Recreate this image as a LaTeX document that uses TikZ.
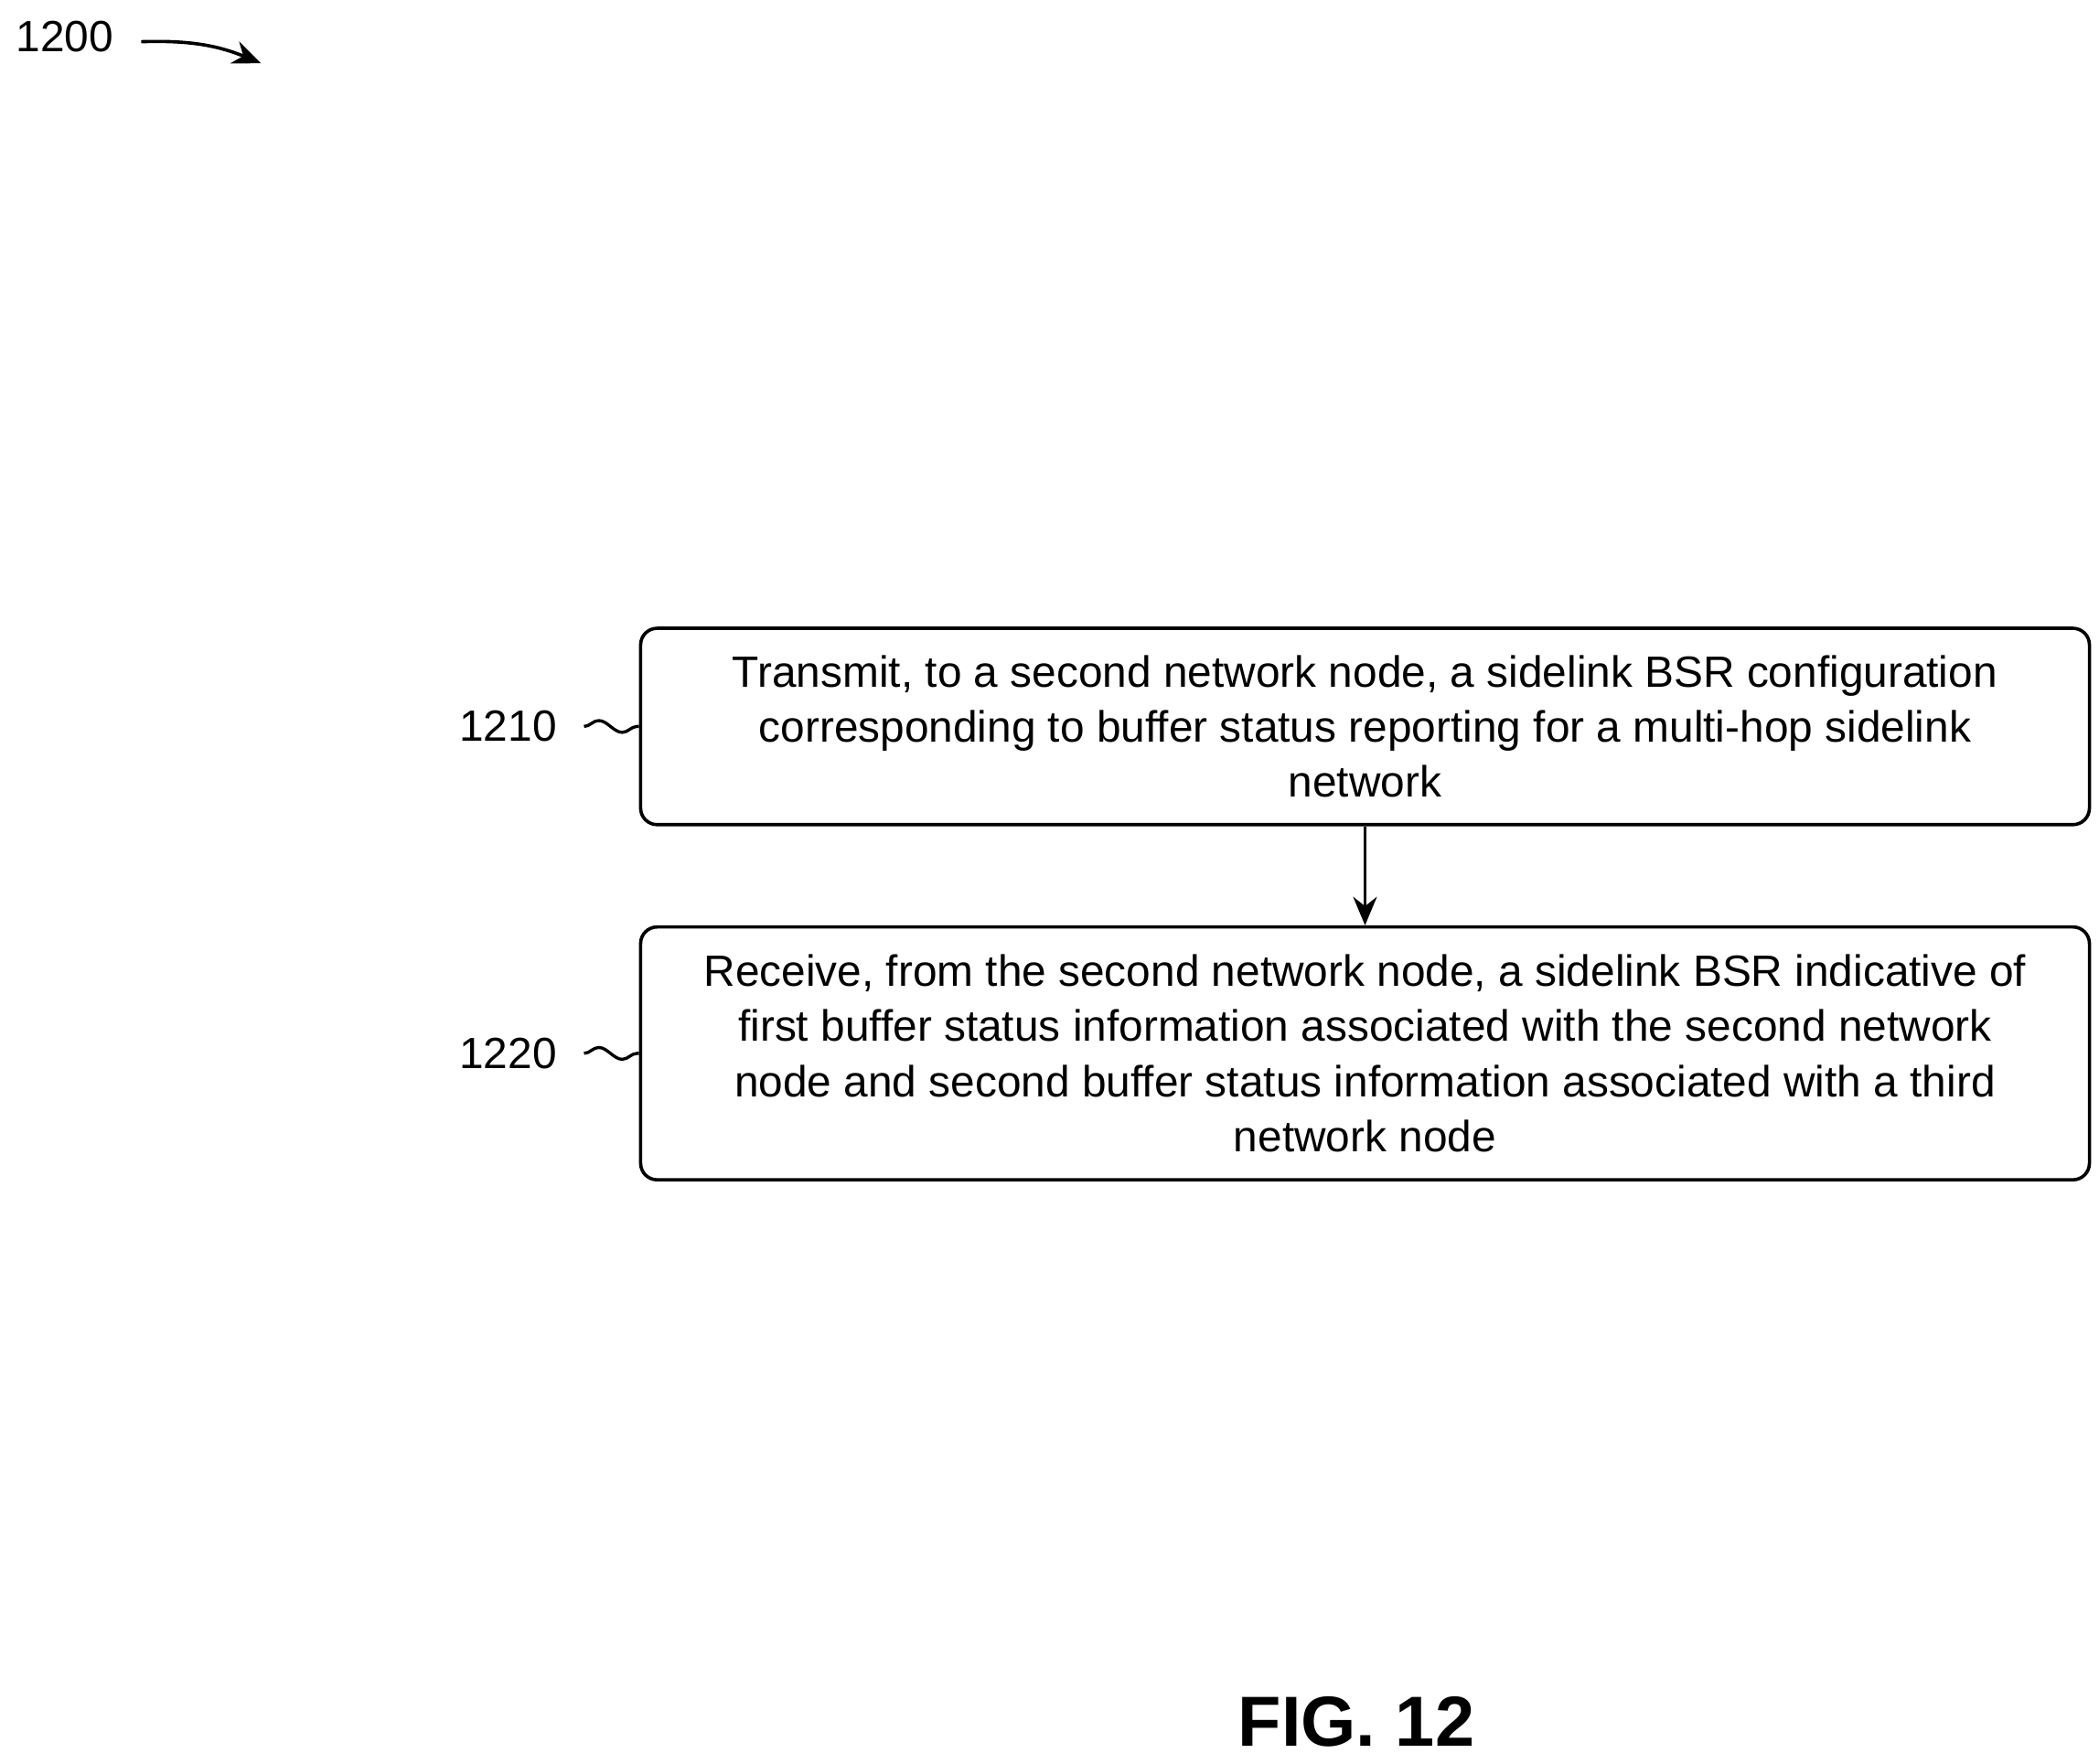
\documentclass[tikz,border=0pt]{standalone}
\usepackage{fontspec}
\setmainfont{Liberation Sans}
\usetikzlibrary{arrows.meta, positioning, decorations.pathmorphing}

\tikzset{
  stepbox/.style={draw, line width=1.4pt, rounded corners=7pt, minimum width=21.54cm,
    align=center, inner sep=0pt,
    font=\fontsize{18.5}{23.3}\selectfont},
  lbl/.style={font=\fontsize{18.5}{23.3}\selectfont},
  squig/.style={line width=1.3pt, decorate, decoration={snake, amplitude=2.5pt, segment length=0.7cm}},
}

\begin{document}
\begin{tikzpicture}[x=0.02cm, y=-0.02cm]
      \useasboundingbox (0,0) rectangle (1560,1311);
      % title and pointer
      \node[lbl] (fig) at (48,27) {1200};
      \coordinate (tip) at (194,47);
      \draw[line width=1.4pt, -{Stealth[length=12pt,width=10pt]}] (105,31) to[bend left=12] (tip);

      % steps
      \node[stepbox, minimum height=2.92cm] (s1) at (1014.5,540) {Transmit, to a second network node, a sidelink BSR configuration\\ corresponding to buffer status reporting for a multi-hop sidelink\\ network};
      \node[stepbox, minimum height=3.76cm] (s2) at (1014.5,783) {Receive, from the second network node, a sidelink BSR indicative of\\ first buffer status information associated with the second network\\ node and second buffer status information associated with a third\\ network node};
      \draw[line width=1.4pt, -{Stealth[length=12pt,width=10pt]}] (s1) -- (s2);

      % reference labels
      \node[lbl, anchor=east] (l1) at (420,540) {1210};
      \node[lbl, anchor=east] (l2) at (420,783) {1220};
      \draw[squig] ([xshift=8pt]l1.east) -- (s1.west);
      \draw[squig] ([xshift=8pt]l2.east) -- (s2.west);

      \node[font=\bfseries\fontsize{30}{36}\selectfont] (cap) at (1008,1280) {FIG. 12};
\end{tikzpicture}
\end{document}
